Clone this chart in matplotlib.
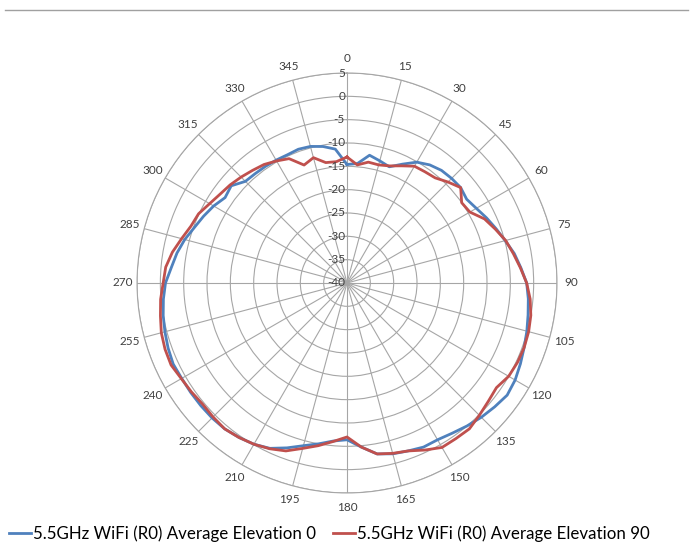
import numpy as np
import matplotlib
matplotlib.use("Agg")
import matplotlib.pyplot as plt
from matplotlib.lines import Line2D
from matplotlib.transforms import offset_copy

plt.rcParams['font.family'] = ['Lato', 'DejaVu Sans']

# angles in degrees (every 5 degrees)
angles = list(range(0, 360, 5))

elev0 = [-14.6, -14.3, -12.2, -12.9, -13.5, -11.9, -10.1, -9.1, -8.5, -8.3,
         -8.2, -8.7, -8.0, -7.0, -6.0, -4.9, -3.6, -2.6, -1.5, -1.0,
         -0.6, -0.1, 0.4, 1.0, 1.6, 1.9, 1.3, 0.7, 0.0, -0.7,
         -1.2, -1.2, -1.7, -2.1, -2.8, -4.7, -6.4, -6.0, -5.0, -3.9,
         -2.4, -0.9, -0.1, 0.4, 0.8, 0.9, 0.9, 0.9, 0.9, 1.1,
         0.8, 0.4, 0.0, -0.5, -1.1, -2.2, -3.0, -4.0, -5.2, -6.1,
         -7.0, -8.1, -7.6, -9.2, -9.4, -9.5, -9.6, -9.7, -9.5, -9.7,
         -10.3, -11.2]

elev90 = [-13.0, -14.6, -13.7, -13.8, -13.3, -12.3, -11.1, -10.9, -10.6, -9.4,
          -8.2, -10.0, -9.6, -7.5, -6.2, -4.8, -3.8, -2.7, -1.5, -0.6,
          0.0, 0.3, 0.4, 0.3, 0.0, -0.9, -0.5, 0.1, 0.8, 0.7,
          0.7, -0.5, -1.7, -2.2, -2.8, -4.7, -7.0, -5.9, -4.6, -3.3,
          -1.7, -0.8, -0.1, 0.4, 0.8, 0.6, 0.4, 0.7, 1.0, 1.6,
          1.5, 1.2, 0.6, 0.1, -0.6, -1.0, -2.0, -3.3, -4.4, -4.9,
          -6.0, -6.8, -7.3, -7.9, -8.5, -9.0, -9.8, -10.6, -13.1, -12.2,
          -13.8, -13.9]

series_names = ["5.5GHz WiFi (R0) Average Elevation 0",
                "5.5GHz WiFi (R0) Average Elevation 90"]
colors = ["#4F81BD", "#C0504D"]

r_ticks = list(range(-40, 10, 5))
theta_ticks = list(range(0, 360, 15))

fig = plt.figure(figsize=(6.98, 5.44), dpi=100)
ax = fig.add_axes([0.1963, 0.0938, 0.6017, 0.772], projection='polar')
ax.set_theta_zero_location('N')
ax.set_theta_direction(-1)
ax.set_ylim(-40, 5)

th = np.deg2rad(angles + [angles[0]])
for vals, c in zip([elev0, elev90], colors):
    ax.plot(th, vals + [vals[0]], color=c, lw=2.0, zorder=3)

gridc = '#A6A6A6'
ax.set_thetagrids(theta_ticks, [str(t) for t in theta_ticks], fontsize=8.5)
ax.set_rgrids(r_ticks, labels=[''] * len(r_ticks))
ax.grid(True, color=gridc, lw=0.8)
ax.spines['polar'].set_color(gridc)
ax.spines['polar'].set_linewidth(0.8)
ax.tick_params(axis='x', pad=0, colors='#404040')

tr = offset_copy(ax.transData, fig=fig, x=-2, y=0, units='dots')
for v in r_ticks:
    ax.text(0, v, str(v), transform=tr, ha='right', va='center',
            fontsize=8.5, color='#404040', zorder=4)

# legend at bottom
handles = [Line2D([], [], color=c, lw=2.0) for c in colors]
fig.legend(handles, series_names, loc='lower center', ncol=2,
           bbox_to_anchor=(0.472, -0.025), frameon=False, fontsize=12.2,
           handlelength=1.3, handletextpad=0.1, columnspacing=1.0)

# thin rule at top
fig.add_artist(Line2D([0.007, 0.986], [0.982, 0.982], color='#A0A0A0', lw=1.0))

fig.savefig('out.png', dpi=100)
